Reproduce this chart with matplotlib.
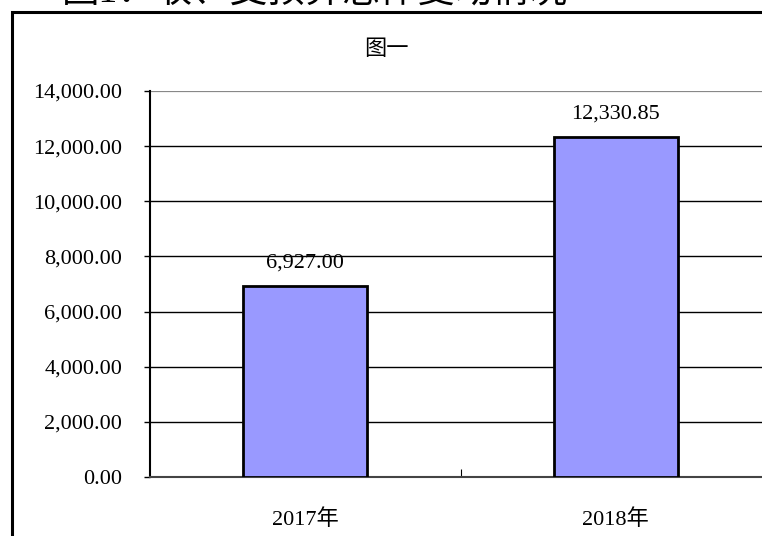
import matplotlib
matplotlib.use("Agg")
import matplotlib.pyplot as plt
from matplotlib.patches import Rectangle

plt.rcParams['font.family'] = ['Liberation Serif', 'Noto Sans CJK SC', 'DejaVu Sans']

years = ['2017年', '2018年']
values = [6927.00, 12330.85]
yticks = [0, 2000, 4000, 6000, 8000, 10000, 12000, 14000]

W, H = 762, 536
fig = plt.figure(figsize=(W / 100, H / 100), dpi=100)

# outer chart frame (right and bottom edges run off the picture)
fig.patches.append(Rectangle((12 / W, -0.1), 1.2, 1 - 12 / H + 0.1,
                             transform=fig.transFigure, fill=False,
                             edgecolor='black', linewidth=2.2))

# cut-off heading above the frame, only its lower part shows in the reference
fig.text(62 / W, 1 + 7 / H, '图1：收、支预算总体变动情况', fontsize=27,
         ha='left', va='center', fontweight='light')
fig.text(386 / W, 1 - 50 / H, '图一', fontsize=16, ha='center', va='center')

left, right, top, bottom = 150, 771, 91, 477
ax = fig.add_axes([left / W, (H - bottom) / H, (right - left) / W, (bottom - top) / H])

x = list(range(len(years)))
bars = ax.bar(x, values, width=0.4, color='#9999FF', edgecolor='black',
              linewidth=2, zorder=3)

ax.set_xlim(-0.5, 1.5)
ax.set_ylim(0, 14000)
ax.set_yticks(yticks)
ax.set_yticklabels([f'{v:,.2f}' for v in yticks], fontsize=16)
ax.yaxis.grid(True, color='black', linewidth=1)
ax.set_axisbelow(True)
ax.get_ygridlines()[-1].set_color('#888888')
ax.get_ygridlines()[-1].set_linewidth(1.6)

# category divider tick in the middle, labels under the bars
ax.set_xticks([0.5])
ax.set_xticklabels([''])
ax.tick_params(axis='x', which='major', direction='in', length=6, width=0.8)
ax.set_xticks(x, minor=True)
ax.set_xticklabels(years, minor=True, fontsize=16)
ax.tick_params(axis='x', which='minor', length=0, pad=23)
ax.tick_params(axis='y', direction='out', length=4, width=1, pad=16)

for s in ['top', 'right']:
    ax.spines[s].set_visible(False)
ax.spines['left'].set_linewidth(1.5)
ax.spines['bottom'].set_linewidth(1.5)
ax.spines['bottom'].set_color('#444444')

for b, v in zip(bars, values):
    ax.annotate(f'{v:,.2f}', (b.get_x() + b.get_width() / 2, v),
                xytext=(0, 10), textcoords='offset points',
                ha='center', va='bottom', fontsize=16)

fig.savefig('out.png', dpi=100)
